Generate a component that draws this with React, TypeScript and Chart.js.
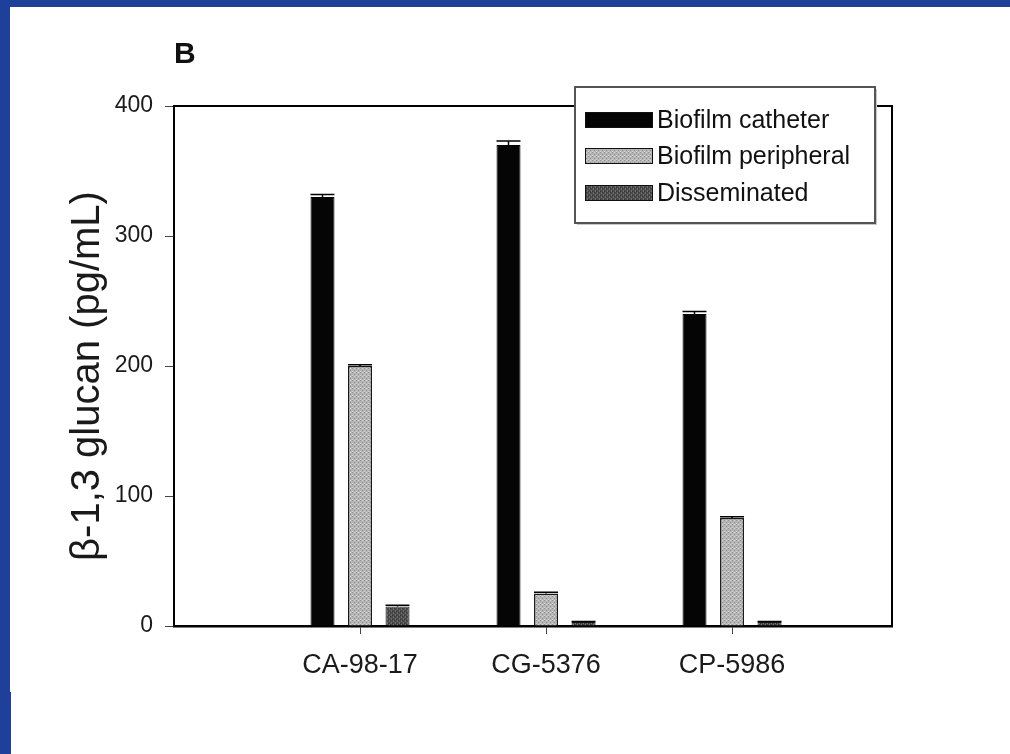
import React, { useEffect, useRef } from 'react';
import { Chart, registerables } from 'chart.js';

Chart.register(...registerables);

// ---- data ----
const categories = ['CA-98-17', 'CG-5376', 'CP-5986'];
const seriesLabels = ['Biofilm catheter', 'Biofilm peripheral', 'Disseminated'];
const catheter = [330, 370, 240];
const peripheral = [200, 25, 83];
const disseminated = [15, 3, 3];
const catheterErr = [2, 3, 2];
const peripheralErr = [1, 1, 1];
const disseminatedErr = [1, 0.5, 0.5];
const yTicks = [0, 100, 200, 300, 400];
const yTitle = 'β-1,3 glucan (pg/mL)';
const panelLabel = 'B';

const FONT = '"Liberation Sans", Arial, sans-serif';

function makePattern(base: string, dot: string, light: string, vertical: boolean) {
  const c = document.createElement('canvas');
  c.width = 4;
  c.height = 4;
  const g = c.getContext('2d')!;
  g.fillStyle = base;
  g.fillRect(0, 0, 4, 4);
  g.fillStyle = dot;
  if (vertical) {
    g.fillRect(1, 0, 1, 2);
    g.fillRect(3, 2, 1, 2);
  } else {
    g.fillRect(0, 0, 1, 1);
    g.fillRect(2, 2, 1, 1);
  }
  g.fillStyle = light;
  g.fillRect(2, 0, 1, 1);
  g.fillRect(0, 3, 1, 1);
  return g.createPattern(c, 'repeat') as CanvasPattern;
}

const decorPlugin = {
  id: 'decor',
  afterDatasetsDraw(chart: any) {
    const { ctx, chartArea, scales } = chart;
    const y = scales.y;
    // error bars
    chart.data.datasets.forEach((ds: any, i: number) => {
      const meta = chart.getDatasetMeta(i);
      meta.data.forEach((bar: any, j: number) => {
        const p = bar.getProps(['x', 'y', 'width'], true);
        const v = ds.data[j].y;
        const e = ds.errors[j];
        const top = y.getPixelForValue(v + e);
        ctx.save();
        ctx.strokeStyle = '#000';
        ctx.lineWidth = 1.5;
        ctx.beginPath();
        ctx.moveTo(p.x, p.y);
        ctx.lineTo(p.x, top);
        ctx.moveTo(p.x - p.width / 2, top);
        ctx.lineTo(p.x + p.width / 2, top);
        ctx.stroke();
        ctx.restore();
      });
    });
    // top and right frame lines
    ctx.save();
    ctx.strokeStyle = '#000';
    ctx.lineWidth = 2;
    ctx.beginPath();
    ctx.moveTo(chartArea.left, chartArea.top);
    ctx.lineTo(chartArea.right, chartArea.top);
    ctx.lineTo(chartArea.right, chartArea.bottom);
    ctx.stroke();
    ctx.restore();
  },
  afterDraw(chart: any) {
    const { ctx, chartArea } = chart;
    ctx.save();
    // panel label
    ctx.fillStyle = '#111';
    ctx.font = `bold 30px ${FONT}`;
    ctx.textAlign = 'left';
    ctx.textBaseline = 'alphabetic';
    ctx.fillText(panelLabel, chartArea.left, 63);

    // y title
    ctx.save();
    ctx.translate(88, 376);
    ctx.rotate(-Math.PI / 2);
    ctx.font = `40px ${FONT}`;
    ctx.textAlign = 'center';
    ctx.textBaseline = 'middle';
    ctx.fillStyle = '#1a1a1a';
    ctx.fillText(yTitle, 0, 0);
    ctx.restore();

    // legend box
    const bx = 575, by = 87, bw = 300, bh = 136;
    ctx.fillStyle = '#c8c8c8';
    ctx.fillRect(bx + 2, by + 2, bw, bh);
    ctx.fillStyle = '#fff';
    ctx.fillRect(bx, by, bw, bh);
    ctx.strokeStyle = '#555';
    ctx.lineWidth = 2;
    ctx.strokeRect(bx, by, bw, bh);
    const rows = [120, 156, 193];
    chart.data.datasets.forEach((ds: any, i: number) => {
      const cy = rows[i];
      ctx.fillStyle = ds.backgroundColor;
      ctx.fillRect(585, cy - 8, 68, 16);
      ctx.strokeStyle = '#111';
      ctx.lineWidth = 1;
      ctx.strokeRect(585.5, cy - 7.5, 67, 15);
      ctx.fillStyle = '#111';
      ctx.font = `25px ${FONT}`;
      ctx.textAlign = 'left';
      ctx.textBaseline = 'middle';
      ctx.fillText(ds.label, 657, cy + 1);
    });
    ctx.restore();
  },
};

export default function App() {
  const ref = useRef<HTMLCanvasElement>(null);

  useEffect(() => {
    if (!ref.current) return;
    const grayPat = makePattern('#b6b6b6', '#8e8e8e', '#d4d4d4', false);
    const darkPat = makePattern('#4a4a4a', '#707070', '#363636', true);
    const mk = (vals: number[]) => vals.map((v, i) => ({ x: i + 1, y: v }));

    const chart = new Chart(ref.current, {
      type: 'bar',
      data: {
        datasets: [
          {
            label: seriesLabels[0],
            data: mk(catheter),
            errors: catheterErr,
            backgroundColor: '#050505',
            borderColor: '#000',
            borderWidth: 1,
          } as any,
          {
            label: seriesLabels[1],
            data: mk(peripheral),
            errors: peripheralErr,
            backgroundColor: grayPat,
            borderColor: '#1a1a1a',
            borderWidth: 1.5,
          } as any,
          {
            label: seriesLabels[2],
            data: mk(disseminated),
            errors: disseminatedErr,
            backgroundColor: darkPat,
            borderColor: '#1a1a1a',
            borderWidth: 1,
          } as any,
        ],
      },
      options: {
        responsive: false,
        animation: false,
        devicePixelRatio: 1,
        categoryPercentage: 0.605,
        barPercentage: 0.64,
        layout: { padding: { left: 0, top: 106, right: 118, bottom: 0 } },
        plugins: {
          legend: { display: false },
          tooltip: { enabled: false },
          title: { display: false },
        },
        scales: {
          x: {
            type: 'linear',
            min: 0,
            max: 3.86,
            offset: false,
            afterBuildTicks: (s: any) => {
              s.ticks = categories.map((_, i) => ({ value: i + 1 }));
            },
            afterFit: (s: any) => {
              s.height = 128;
            },
            ticks: {
              autoSkip: false,
              maxRotation: 0,
              padding: 15,
              color: '#1a1a1a',
              font: { family: FONT, size: 27 },
              callback: (v: any) => categories[Math.round(Number(v)) - 1] ?? '',
            },
            grid: {
              offset: false,
              drawOnChartArea: false,
              drawTicks: true,
              tickLength: 8,
              color: '#444',
              lineWidth: 1,
            },
            border: { display: true, color: '#000', width: 2.5 },
          } as any,
          y: {
            type: 'linear',
            min: 0,
            max: 400,
            afterBuildTicks: (s: any) => {
              s.ticks = yTicks.map((v) => ({ value: v }));
            },
            afterFit: (s: any) => {
              s.width = 174;
            },
            ticks: {
              padding: 12,
              color: '#1a1a1a',
              font: { family: FONT, size: 23 },
              callback: (v: any) => String(v),
            },
            grid: {
              drawOnChartArea: false,
              drawTicks: true,
              tickLength: 9,
              color: '#444',
              lineWidth: 1,
            },
            border: { display: true, color: '#000', width: 2 },
          } as any,
        },
      } as any,
      plugins: [decorPlugin],
    });
    return () => chart.destroy();
  }, []);

  return (
    <div style={{ position: 'fixed', left: 0, top: 0, width: 1010, height: 754, background: '#1f409a', overflow: 'hidden' }}>
      <div style={{ position: 'absolute', left: 10, top: 7, right: 0, bottom: 0, background: '#fff' }} />
      <div style={{ position: 'absolute', left: 10, top: 692, width: 1, bottom: 0, background: '#1f409a' }} />
      <canvas ref={ref} width={1010} height={754} style={{ position: 'absolute', left: 0, top: 0, width: 1010, height: 754 }} />
    </div>
  );
}
